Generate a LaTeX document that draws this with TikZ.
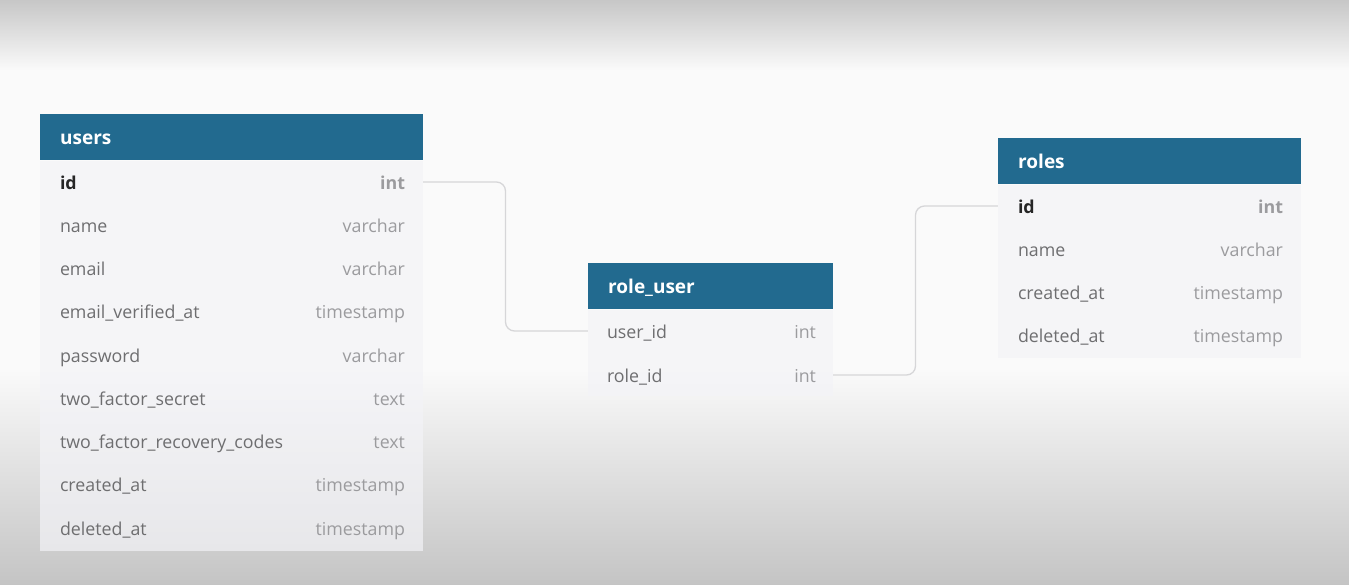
\documentclass[tikz,border=0pt]{standalone}
\usepackage{fontspec}
\setmainfont{Open Sans}
\usetikzlibrary{positioning}

\definecolor{hdrblue}{RGB}{34,106,143}
\definecolor{namegray}{RGB}{110,110,112}
\definecolor{typegray}{RGB}{155,155,158}
\definecolor{linkgray}{RGB}{214,214,216}
\definecolor{bodyfill}{RGB}{243,243,247}
\definecolor{bgmid}{RGB}{250,250,250}

\tikzset{
	tblhead/.style={rectangle, fill=hdrblue, text=white, anchor=north west,
		minimum height=46pt, inner xsep=20pt, align=left, text height=17pt, text depth=2pt,
		font=\bfseries\fontsize{19}{22}\selectfont},
	tblbody/.style={rectangle, fill=bodyfill, fill opacity=0.7, anchor=north west},
	tblrow/.style={rectangle, minimum height=43pt, inner sep=0pt},
	fname/.style={anchor=west, text=namegray, inner sep=0pt, text height=16pt, text depth=2pt,
		font=\fontsize{17.8}{21}\selectfont},
	fkey/.style={fname, text=black!85, font=\bfseries\fontsize{17.8}{21}\selectfont},
	ftype/.style={anchor=east, text=typegray, inner sep=0pt, text height=16pt, text depth=2pt,
		font=\fontsize{17.8}{21}\selectfont},
	fkeytype/.style={ftype, font=\bfseries\fontsize{17.8}{21}\selectfont},
	link/.style={draw=linkgray, line width=1.3pt, rounded corners=9pt}
}

\begin{document}
\begin{tikzpicture}[x=1pt, y=-1pt]
	\useasboundingbox (0,0) rectangle (1349,584);
	% background
	\fill[bgmid] (0,0) rectangle (1349,584);
	\shade[top color=black!22, bottom color=bgmid] (0,0) rectangle (1349,70);
	\shade[top color=bgmid, bottom color=black!23] (0,370) rectangle (1349,584);

	% users
	\node[tblhead, minimum width=383pt, text width=343pt] (users) at (40,114) {users};
	\node[tblbody, minimum width=383pt, minimum height=390pt] (usersbody) at (users.south west) {};
	\foreach \f/\t [count=\i] in {id/int, name/varchar, email/varchar,
		email\_verified\_at/timestamp, password/varchar, two\_factor\_secret/text,
		two\_factor\_recovery\_codes/text, created\_at/timestamp, deleted\_at/timestamp} {
		\node[tblrow, minimum width=383pt] (users-r\i) at (231.5, {182+43.25*(\i-1)}) {};
		\ifnum\i=1
			\node[fkey] at ([xshift=20pt] users-r\i.west) {\f};
			\node[fkeytype] at ([xshift=-18pt] users-r\i.east) {\t};
		\else
			\node[fname] at ([xshift=20pt] users-r\i.west) {\f};
			\node[ftype] at ([xshift=-18pt] users-r\i.east) {\t};
		\fi
	}

	% role_user
	\node[tblhead, minimum width=245pt, text width=205pt] (ru) at (588,263) {role\_user};
	\node[tblbody, minimum width=245pt, minimum height=86pt] (rubody) at (ru.south west) {};
	\foreach \f/\t [count=\i] in {user\_id/int, role\_id/int} {
		\node[tblrow, minimum width=245pt] (ru-r\i) at (710.5, {331+44*(\i-1)}) {};
		\node[fname] at ([xshift=19pt] ru-r\i.west) {\f};
		\node[ftype] at ([xshift=-17pt] ru-r\i.east) {\t};
	}

	% roles
	\node[tblhead, minimum width=303pt, text width=263pt] (roles) at (998,138) {roles};
	\node[tblbody, minimum width=303pt, minimum height=173pt] (rolesbody) at (roles.south west) {};
	\foreach \f/\t [count=\i] in {id/int, name/varchar, created\_at/timestamp, deleted\_at/timestamp} {
		\node[tblrow, minimum width=303pt] (roles-r\i) at (1149.5, {206+43.3*(\i-1)}) {};
		\ifnum\i=1
			\node[fkey] at ([xshift=20pt] roles-r\i.west) {\f};
			\node[fkeytype] at ([xshift=-18pt] roles-r\i.east) {\t};
		\else
			\node[fname] at ([xshift=20pt] roles-r\i.west) {\f};
			\node[ftype] at ([xshift=-18pt] roles-r\i.east) {\t};
		\fi
	}

	% relations
	\draw[link] (users-r1.east) -| (505.5,257) |- (ru-r1.west);
	\draw[link] (ru-r2.east) -| (915.5,290) |- (roles-r1.west);
\end{tikzpicture}
\end{document}
